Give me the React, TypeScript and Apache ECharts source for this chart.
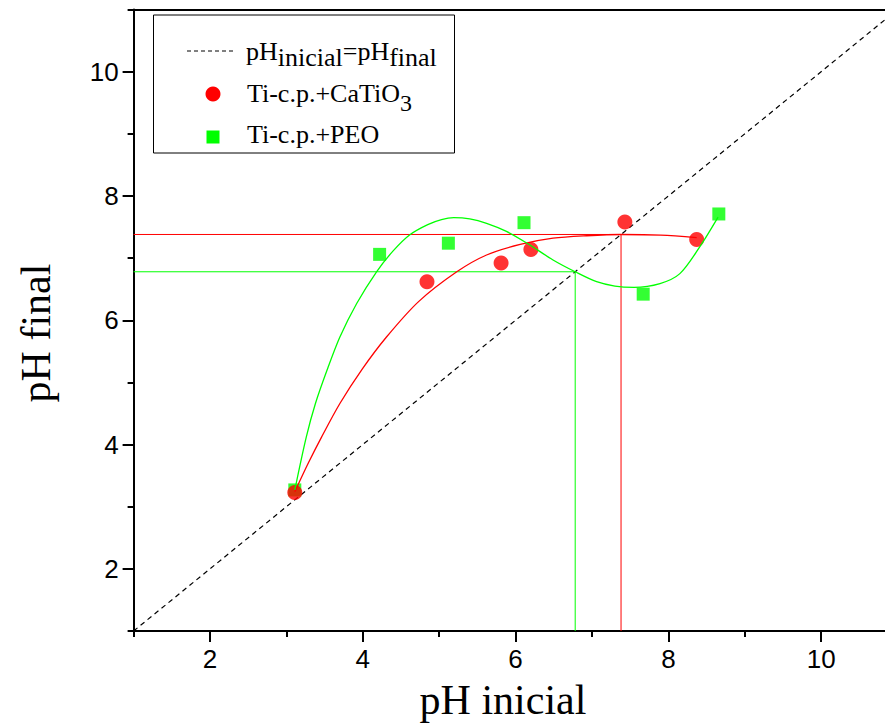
import React, { useEffect, useRef } from 'react';
import * as echarts from 'echarts';

// ---- data ----
const xMin = 1;
const xMax = 10.835;
const yMin = 1;
const yMax = 11;
const xMajorTicks = [2, 4, 6, 8, 10];
const xMinorTicks = [1, 3, 5, 7, 9];
const yMajorTicks = [2, 4, 6, 8, 10];
const yMinorTicks = [1, 3, 5, 7, 9, 11];

const diagonal = [1, 11];

const caTiO3X = [3.11, 4.84, 5.81, 6.2, 7.43, 8.37];
const caTiO3Y = [3.23, 6.62, 6.92, 7.14, 7.58, 7.3];
const peoX = [3.11, 4.22, 5.12, 6.11, 7.67, 8.66];
const peoY = [3.27, 7.06, 7.24, 7.57, 6.42, 7.71];

const caTiO3FitX = [3.11, 3.29, 3.46, 3.7, 3.99, 4.31, 4.73, 5.23, 5.62, 6.06, 6.49, 6.93, 7.39, 7.9, 8.37];
const caTiO3FitY = [3.24, 3.71, 4.12, 4.66, 5.21, 5.73, 6.3, 6.78, 7.05, 7.22, 7.32, 7.36, 7.38, 7.37, 7.33];
const peoFitX = [3.11, 3.26, 3.38, 3.53, 3.7, 3.92, 4.18, 4.4, 4.62, 4.85, 5.03, 5.19, 5.4, 5.62, 5.88, 6.15, 6.49, 6.78, 7.06, 7.3, 7.55, 7.89, 8.15, 8.41, 8.65];
const peoFitY = [3.27, 4.12, 4.66, 5.19, 5.73, 6.27, 6.78, 7.12, 7.38, 7.54, 7.62, 7.65, 7.63, 7.56, 7.43, 7.24, 6.97, 6.78, 6.62, 6.55, 6.53, 6.59, 6.75, 7.18, 7.66];

const caTiO3Cross = 7.38;
const peoCross = 6.78;

const legendLine1 = [
  { t: 'pH', sub: false },
  { t: 'inicial', sub: true },
  { t: '=pH', sub: false },
  { t: 'final', sub: true },
];
const legendLine2 = [
  { t: 'Ti-c.p.+CaTiO', sub: false },
  { t: '3', sub: true },
];
const legendLine3 = [{ t: 'Ti-c.p.+PEO', sub: false }];

const xTitle = 'pH inicial';
const yTitle = 'pH final';

const RED = '#ff0000';
const GREEN = '#00ff00';
const SERIF = '"Liberation Serif", "Times New Roman", serif';
const SANS = '"Liberation Sans", Arial, sans-serif';

function measure(text: string, size: number, family: string) {
  const c = document.createElement('canvas').getContext('2d');
  if (!c) return text.length * size * 0.5;
  c.font = `${size}px ${family}`;
  return c.measureText(text).width;
}

function textRow(parts: { t: string; sub: boolean }[], x0: number, baseline: number, size: number, subSize: number, subShift: number) {
  const els: any[] = [];
  let x = x0;
  for (const p of parts) {
    const fs = p.sub ? subSize : size;
    const base = baseline + (p.sub ? subShift : 0);
    els.push({
      type: 'text',
      x,
      y: base - 0.3375 * fs,
      style: { text: p.t, fontSize: fs, fontFamily: SERIF, fill: '#000', align: 'left', verticalAlign: 'middle' },
    });
    x += measure(p.t, fs, SERIF);
  }
  return els;
}

export default function App() {
  const ref = useRef<HTMLDivElement>(null);
  useEffect(() => {
    if (!ref.current) return;
    const chart = echarts.init(ref.current, undefined, { renderer: 'svg' });

    const pairs = (xs: number[], ys: number[]) => xs.map((x, i) => [x, ys[i]]);

    const tickLabel = { fontFamily: SANS, fontSize: 26, color: '#000' };

    const graphic: any[] = [
      {
        type: 'rect',
        shape: { x: 153.5, y: 15, width: 301, height: 138 },
        style: { fill: '#fff', stroke: '#000', lineWidth: 1 },
        z: 100,
      },
      {
        type: 'line',
        shape: { x1: 187, y1: 51, x2: 235, y2: 51 },
        style: { stroke: '#000', lineWidth: 1, lineDash: [4, 3] },
        z: 101,
      },
      {
        type: 'circle',
        shape: { cx: 213, cy: 94, r: 7.5 },
        style: { fill: RED },
        z: 101,
      },
      {
        type: 'rect',
        shape: { x: 206.5, y: 130.5, width: 13, height: 13 },
        style: { fill: GREEN },
        z: 101,
      },
      ...textRow(legendLine1, 246, 60, 26, 26, 6).map((e) => ({ ...e, z: 101 })),
      ...textRow(legendLine2, 247, 102, 26, 24, 9).map((e) => ({ ...e, z: 101 })),
      ...textRow(legendLine3, 247, 143, 26, 24, 8).map((e) => ({ ...e, z: 101 })),
      {
        type: 'text',
        x: 503,
        y: 714 - 0.3375 * 42,
        style: { text: xTitle, fontSize: 42, fontFamily: SERIF, fill: '#000', align: 'center', verticalAlign: 'middle' },
      },
      {
        type: 'text',
        x: 50 - 0.3375 * 42,
        y: 333,
        rotation: Math.PI / 2,
        style: { text: yTitle, fontSize: 42, fontFamily: SERIF, fill: '#000', align: 'center', verticalAlign: 'middle' },
      },
    ];

    const xCommon = { type: 'value' as const, min: xMin, max: xMax, splitLine: { show: false } };
    const yCommon = { type: 'value' as const, min: yMin, max: yMax, splitLine: { show: false } };

    chart.setOption({
      animation: false,
      backgroundColor: '#fff',
      grid: {
        left: 133.6,
        right: 0,
        top: 9.5,
        bottom: 92,
        show: false,
      },
      xAxis: [
        {
          ...xCommon,
          position: 'bottom',
          axisLine: { show: true, lineStyle: { color: '#000', width: 2 } },
          axisTick: { show: true, inside: false, length: 11, customValues: xMajorTicks, lineStyle: { color: '#000', width: 2 } },
          axisLabel: { show: true, margin: 15, customValues: xMajorTicks, ...tickLabel },
        },
        {
          ...xCommon,
          position: 'bottom',
          axisLine: { show: false },
          axisTick: { show: true, inside: false, length: 6, customValues: xMinorTicks, lineStyle: { color: '#000', width: 2 } },
          axisLabel: { show: false },
        },
        {
          ...xCommon,
          position: 'top',
          axisLine: { show: true, lineStyle: { color: '#000', width: 2 } },
          axisTick: { show: false },
          axisLabel: { show: false },
        },
      ],
      yAxis: [
        {
          ...yCommon,
          position: 'left',
          axisLine: { show: true, lineStyle: { color: '#000', width: 2 } },
          axisTick: { show: true, inside: false, length: 11, customValues: yMajorTicks, lineStyle: { color: '#000', width: 2 } },
          axisLabel: { show: true, margin: 15, customValues: yMajorTicks, ...tickLabel },
        },
        {
          ...yCommon,
          position: 'left',
          axisLine: { show: false },
          axisTick: { show: true, inside: false, length: 6, customValues: yMinorTicks, lineStyle: { color: '#000', width: 2 } },
          axisLabel: { show: false },
        },
      ],
      series: [
        {
          type: 'line',
          data: [[diagonal[0], diagonal[0]], [diagonal[1], diagonal[1]]],
          symbol: 'none',
          lineStyle: { color: '#000', width: 1.2, type: [5, 4] },
          z: 2,
        },
        {
          type: 'line',
          data: [[xMin, caTiO3Cross], [caTiO3Cross, caTiO3Cross], [caTiO3Cross, yMin]],
          symbol: 'none',
          lineStyle: { color: RED, width: 1 },
          z: 2,
        },
        {
          type: 'line',
          data: [[xMin, peoCross], [peoCross, peoCross], [peoCross, yMin]],
          symbol: 'none',
          lineStyle: { color: GREEN, width: 1 },
          z: 2,
        },
        {
          type: 'scatter',
          data: pairs(peoX, peoY),
          symbol: 'rect',
          symbolSize: 13,
          itemStyle: { color: GREEN },
          z: 3,
        },
        {
          type: 'scatter',
          data: pairs(caTiO3X, caTiO3Y),
          symbol: 'circle',
          symbolSize: 15,
          itemStyle: { color: RED },
          z: 4,
        },
        {
          type: 'line',
          data: pairs(caTiO3FitX, caTiO3FitY),
          smooth: 0.3,
          symbol: 'none',
          lineStyle: { color: RED, width: 1.3 },
          z: 5,
        },
        {
          type: 'line',
          data: pairs(peoFitX, peoFitY),
          smooth: 0.3,
          symbol: 'none',
          lineStyle: { color: GREEN, width: 1.3 },
          z: 5,
        },
      ],
      graphic,
    });
    return () => chart.dispose();
  }, []);

  return (
    <div
      ref={ref}
      style={{ position: 'fixed', left: 0, top: 0, width: 885, height: 723, background: '#fff' }}
    />
  );
}
